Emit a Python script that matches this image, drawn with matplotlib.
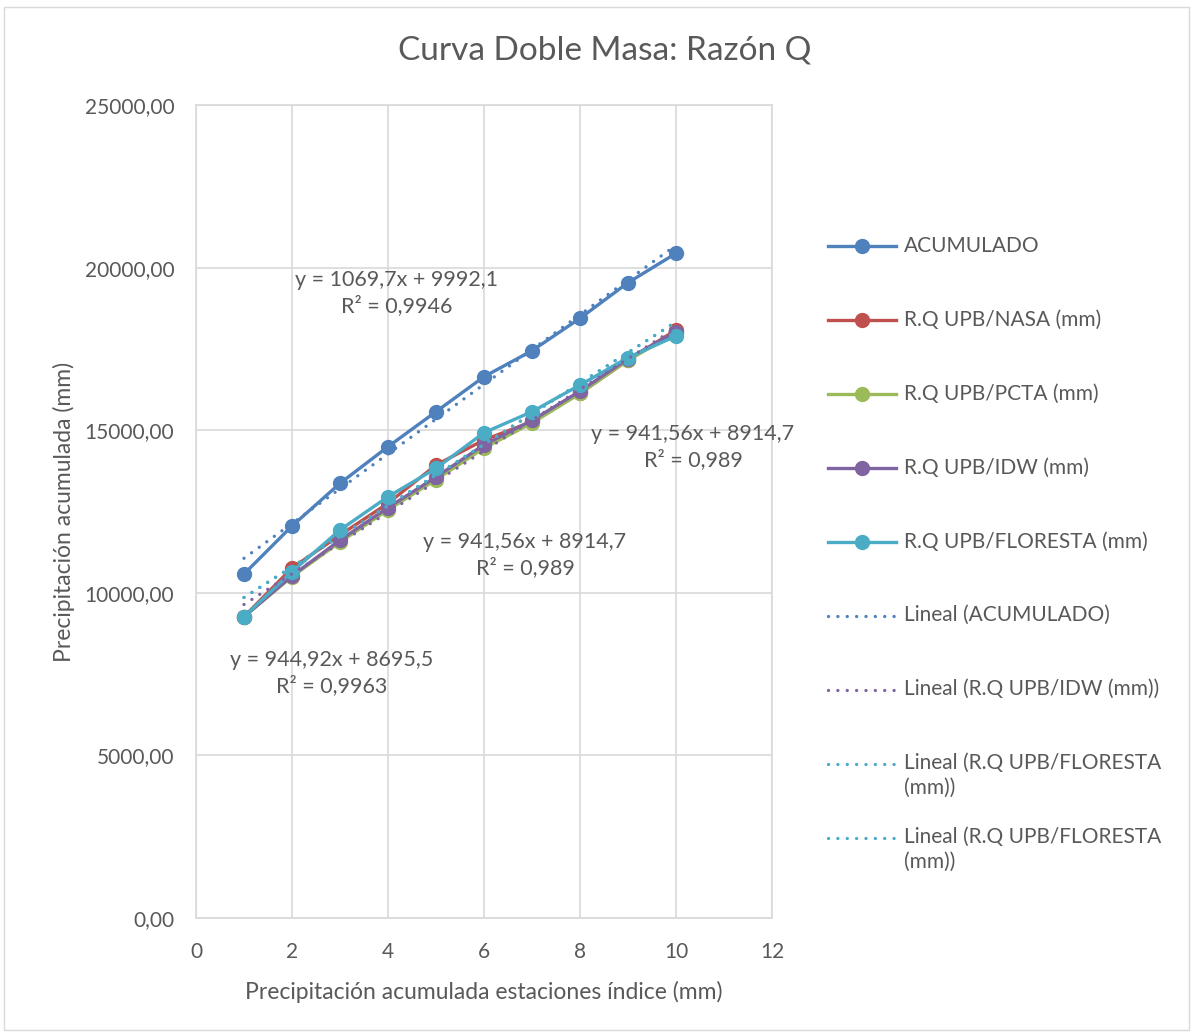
import matplotlib
matplotlib.use("Agg")
import matplotlib.pyplot as plt
from matplotlib.lines import Line2D
from matplotlib.patches import Rectangle
from matplotlib.ticker import FuncFormatter, MultipleLocator
import numpy as np

plt.rcParams['font.family'] = ['Lato', 'DejaVu Sans']

x = [1, 2, 3, 4, 5, 6, 7, 8, 9, 10]
acumulado = [10578, 12054, 13367, 14493, 15569, 16645, 17445, 18441, 19536, 20439]
nasa = [9265, 10762, 11777, 12752, 13930, 14699, 15262, 16134, 17157, 18081]
pcta = [9265, 10500, 11560, 12550, 13480, 14450, 15220, 16130, 17150, 18000]
idw = [9265, 10520, 11620, 12620, 13560, 14550, 15300, 16200, 17200, 18020]
floresta = [9265, 10649, 11931, 12955, 13827, 14923, 15569, 16390, 17230, 17897]

# trend line coefficients (slope, intercept) as labelled
trend_acum = (1069.7, 9992.1)
trend_idw = (944.92, 8695.5)
trend_flor = (941.56, 8914.7)

series_names = ["ACUMULADO", "R.Q UPB/NASA (mm)", "R.Q UPB/PCTA (mm)",
                "R.Q UPB/IDW (mm)", "R.Q UPB/FLORESTA (mm)"]
trend_names = ["Lineal (ACUMULADO)", "Lineal (R.Q UPB/IDW (mm))",
               "Lineal (R.Q UPB/FLORESTA\n(mm))", "Lineal (R.Q UPB/FLORESTA\n(mm))"]

c_blue = "#4F81BD"
c_red = "#C0504D"
c_green = "#9BBB59"
c_purple = "#8064A2"
c_cyan = "#4BACC6"
grid_c = "#D9D9D9"
text_c = "#595959"

DOT = (0, (0.01, 2.8))

fig = plt.figure(figsize=(11.93, 10.32), dpi=100)
W, H = 1193, 1032
ax = fig.add_axes([196 / W, 1 - 918 / H, (772 - 196) / W, (918 - 105) / H])

fig.add_artist(Rectangle((4 / W, 0.002), 1 - 8 / W, 1 - 7 / H - 0.002, transform=fig.transFigure,
                         fill=False, edgecolor="#D9D9D9", linewidth=1))

ser = [acumulado, nasa, pcta, idw, floresta]
cols = [c_blue, c_red, c_green, c_purple, c_cyan]
for vals, col, name in zip(ser, cols, series_names):
    ax.plot(x, vals, color=col, lw=2.4, marker='o', markersize=10, label=name, zorder=3)

xs = np.array([x[0], x[-1]])
trends = [(trend_acum, c_blue), (trend_idw, c_purple), (trend_flor, c_cyan), (trend_flor, c_cyan)]
for (m, b), col in trends:
    ax.plot(xs, m * xs + b, color=col, lw=2.4, linestyle=DOT,
            dash_capstyle='round', zorder=4)

ax.set_xlim(0, 12)
ax.set_ylim(0, 25000)
ax.xaxis.set_major_locator(MultipleLocator(2))
ax.yaxis.set_major_locator(MultipleLocator(5000))
ax.yaxis.set_major_formatter(FuncFormatter(lambda v, p: f"{v:.2f}".replace('.', ',')))
ax.grid(True, color=grid_c, lw=1.2, zorder=0)
ax.set_axisbelow(True)
for s in ax.spines.values():
    s.set_color(grid_c)
    s.set_linewidth(1.2)
ax.tick_params(length=0, labelsize=15, labelcolor=text_c)
ax.tick_params(axis='x', pad=17)
ax.tick_params(axis='y', pad=15.7)

ax.set_xlabel("Precipitación acumulada estaciones índice (mm)", fontsize=16.5, color=text_c, labelpad=13.7)
ax.set_ylabel("Precipitación acumulada (mm)", fontsize=16.5, color=text_c, labelpad=6.6)
fig.text(0.5067, 1 - 50 / H, "Curva Doble Masa: Razón Q", ha='center', va='center',
         fontsize=24, color=text_c)

def pix2data(px, py):
    return ((px - 196) / 48.0, (918 - py) / 813.0 * 25000)

labels = [("y = 1069,7x + 9992,1\nR² = 0,9946", 397, 293),
          ("y = 941,56x + 8914,7\nR² = 0,989", 525, 555),
          ("y = 941,56x + 8914,7\nR² = 0,989", 693, 447),
          ("y = 944,92x + 8695,5\nR² = 0,9963", 332, 673)]
for t, px, py in labels:
    dx, dy = pix2data(px, py)
    ax.text(dx, dy, t, ha='center', va='center', fontsize=15.5, color=text_c,
            linespacing=1.35, zorder=5, clip_on=False)

# legend drawn manually
ys = [246, 320, 394, 468, 542, 616, 690, 764, 838]
for i, y in enumerate(ys):
    fy = 1 - y / H
    if i < 5:
        col = cols[i]
        fig.add_artist(Line2D([828 / W, 896 / W], [fy, fy], transform=fig.transFigure,
                              color=col, lw=2.4))
        fig.add_artist(Line2D([862 / W], [fy], transform=fig.transFigure,
                              color=col, marker='o', markersize=10))
        fig.text(904 / W, fy, series_names[i], ha='left', va='center', fontsize=15, color=text_c)
    else:
        col = trends[i - 5][1]
        fig.add_artist(Line2D([828 / W, 896 / W], [fy, fy], transform=fig.transFigure,
                              color=col, lw=2.4, linestyle=DOT, dash_capstyle='round'))
        fig.text(904 / W, fy + 11 / H, trend_names[i - 5], ha='left', va='top',
                 fontsize=15, color=text_c, linespacing=1.3)

fig.savefig("out.png", dpi=100)
